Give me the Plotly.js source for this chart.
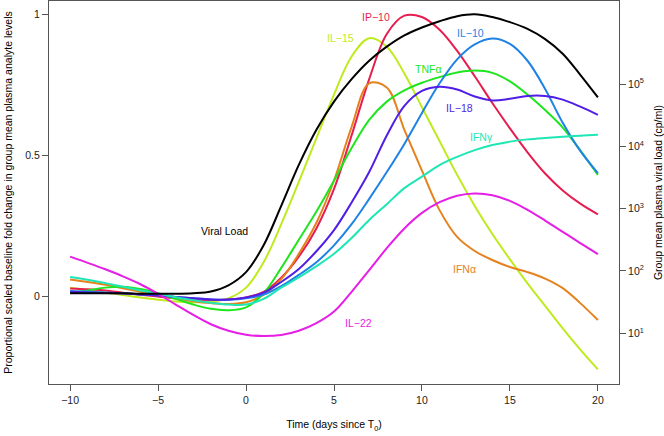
<!DOCTYPE html>
<html><head><meta charset="utf-8">
<script src="https://cdn.plot.ly/plotly-3.0.1.min.js"></script>
<style>html,body{margin:0;padding:0;background:#fff}</style>
</head><body><div id="chart" style="width:664px;height:436px"></div>
<script>
// Days since T0
const days = [-10,-9,-8,-7,-6,-5,-4,-3,-2,-1,0,1,2,3,4,5,6,7,8,9,10,11,12,13,14,15,16,17,18,19,20];

// Proportional scaled baseline fold change (left axis)
const il15 = [0.03,0.022,0.013,0.004,-0.005,-0.013,-0.019,-0.022,-0.02,-0.008,0.03,0.12,0.255,0.405,0.56,0.715,0.85,0.915,0.885,0.79,0.67,0.55,0.43,0.32,0.22,0.13,0.045,-0.035,-0.115,-0.19,-0.26];
const ip10 = [0.027,0.024,0.02,0.012,0.005,-0.002,-0.008,-0.012,-0.014,-0.012,-0.005,0.015,0.065,0.14,0.24,0.38,0.57,0.77,0.93,0.995,0.99,0.945,0.87,0.78,0.685,0.595,0.51,0.435,0.375,0.328,0.29];
const ifna = [0.059,0.05,0.04,0.028,0.015,0.003,-0.008,-0.018,-0.025,-0.028,-0.022,0.005,0.06,0.15,0.26,0.41,0.6,0.755,0.74,0.59,0.445,0.305,0.21,0.16,0.128,0.103,0.085,0.062,0.028,-0.025,-0.085];
const tnfa = [0.012,0.02,0.03,0.033,0.025,0.01,-0.01,-0.03,-0.045,-0.05,-0.04,0.01,0.1,0.2,0.3,0.41,0.525,0.625,0.69,0.73,0.757,0.777,0.793,0.8,0.792,0.762,0.715,0.66,0.598,0.517,0.43];
const il10 = [0.018,0.016,0.013,0.01,0.006,0.002,-0.003,-0.008,-0.012,-0.013,-0.008,0.005,0.035,0.075,0.12,0.18,0.255,0.345,0.44,0.54,0.65,0.755,0.84,0.893,0.914,0.895,0.835,0.735,0.615,0.515,0.436];
const il18 = [0.015,0.013,0.011,0.009,0.006,0.002,-0.003,-0.008,-0.012,-0.012,-0.005,0.012,0.05,0.096,0.159,0.234,0.332,0.44,0.57,0.675,0.728,0.743,0.733,0.708,0.694,0.70,0.71,0.71,0.697,0.672,0.643];
const ifng = [0.068,0.058,0.046,0.033,0.02,0.008,-0.004,-0.015,-0.024,-0.03,-0.03,-0.01,0.03,0.066,0.106,0.15,0.206,0.27,0.326,0.383,0.424,0.465,0.494,0.518,0.536,0.548,0.556,0.561,0.565,0.569,0.572];
const il22 = [0.14,0.118,0.095,0.07,0.042,0.008,-0.03,-0.067,-0.1,-0.123,-0.137,-0.142,-0.138,-0.123,-0.096,-0.055,0.015,0.092,0.17,0.24,0.295,0.333,0.356,0.364,0.358,0.338,0.306,0.268,0.228,0.188,0.149];

// Group mean plasma viral load, cp/ml (right log axis)
const viralLoad = [44,44,44,44,43,43,43,44,47,59,96,259,1110,5040,18500,52400,120000,237000,399000,605000,810000,1020000,1230000,1320000,1190000,987000,769000,528000,308000,141000,61200];

// Series names and label text
const names = ['IL-15','IP-10','IFN\u03b1','TNF\u03b1','IL-10','IL-18','IFN\u03b3','IL-22'];
const labelText = ['IL\u221215','IP\u221210','IFN\u03b1','TNF\u03b1','IL\u221210','IL\u221218','IFN\u03b3','IL\u221222'];
const yTickVals = [0, 0.5, 1];
const xTickVals = [-10, -5, 0, 5, 10, 15, 20];
const vlTickVals = [10, 100, 1000, 10000, 100000];
const vlTickText = ['10<sup>1</sup>','10<sup>2</sup>','10<sup>3</sup>','10<sup>4</sup>','10<sup>5</sup>'];

const series = [il15, ip10, ifna, tnfa, il10, il18, ifng, il22];
const colors = ['#BEEB1E','#E61E50','#E6821E','#1EE61E','#1E82E6','#501EE6','#1EE6B4','#E61EE6'];
// label anchor positions (data coordinates)
const labelPos = [[5.35,0.917],[7.39,0.991],[12.43,0.095],[10.34,0.806],[12.77,0.932],[12.14,0.668],[13.37,0.563],[6.4,-0.097]];

const FONT = '"Liberation Sans", Arial, Helvetica, sans-serif';
const traces = series.map((s, i) => ({
  type: 'scatter', mode: 'lines', x: days, y: s, name: names[i],
  line: {color: colors[i], width: 2, shape: 'spline', smoothing: 1}, hoverinfo: 'skip'
}));
traces.push({
  type: 'scatter', mode: 'lines', x: days, y: viralLoad, name: 'Viral Load', yaxis: 'y2',
  line: {color: '#000000', width: 2, shape: 'spline', smoothing: 1}, hoverinfo: 'skip'
});

const annotations = labelText.map((t, i) => ({
  x: labelPos[i][0], y: labelPos[i][1], xref: 'x', yref: 'y', text: t, showarrow: false,
  font: {family: FONT, size: 10.5, color: colors[i]}, xanchor: 'center', yanchor: 'middle'
}));
annotations.push({x: -1.2, y: 0.232, xref: 'x', yref: 'y', text: 'Viral Load', showarrow: false,
  font: {family: FONT, size: 10.5, color: '#000'}, xanchor: 'center', yanchor: 'middle'});

const axisCommon = {ticks: 'outside', ticklen: 6, tickwidth: 1, tickcolor: '#555', showgrid: false, zeroline: false,
  tickfont: {family: FONT, size: 10.5, color: '#222'}};

const layout = {
  width: 664, height: 436,
  margin: {l: 49, r: 45, t: 1, b: 52},
  paper_bgcolor: '#fff', plot_bgcolor: '#fff', showlegend: false,
  font: {family: FONT, size: 10.5, color: '#000'},
  xaxis: Object.assign({}, axisCommon, {
    range: [-11.2, 21.2], tickvals: xTickVals, showline: true, mirror: true, linecolor: '#555', linewidth: 1,
    title: {text: 'Time (days since T<sub>0</sub>)', font: {family: FONT, size: 10.5, color: '#000'}, standoff: 16}
  }),
  yaxis: Object.assign({}, axisCommon, {
    range: [-0.312, 1.047], tickvals: yTickVals, showline: true, mirror: true, linecolor: '#555', linewidth: 1,
    title: {text: 'Proportional scaled baseline fold change in group mean plasma analyte levels', font: {family: FONT, size: 10.5, color: '#000'}, standoff: 10}
  }),
  yaxis2: Object.assign({}, axisCommon, {
    overlaying: 'y', side: 'right', type: 'log', range: [0.186, 6.334], tickvals: vlTickVals, ticktext: vlTickText,
    showline: false,
    title: {text: 'Group mean plasma viral load (cp/ml)', font: {family: FONT, size: 10.5, color: '#000'}, standoff: 13}
  }),
  annotations: annotations
};

Plotly.newPlot('chart', traces, layout, {displayModeBar: false, staticPlot: true});
</script></body></html>
